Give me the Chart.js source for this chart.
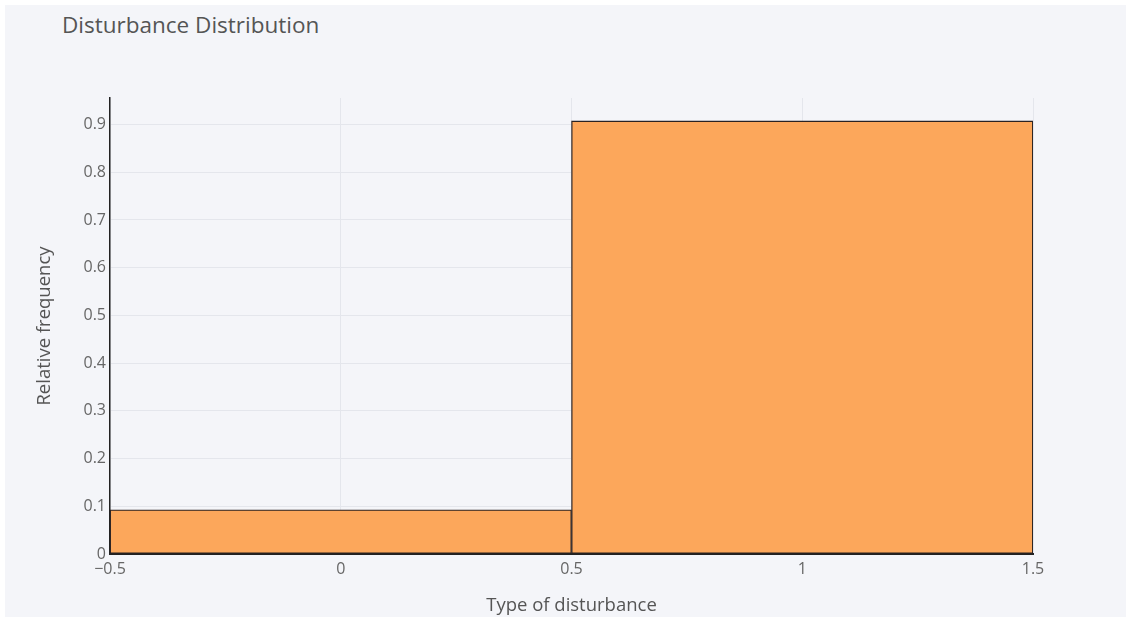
<!DOCTYPE html>
<html>
<head>
<meta charset="utf-8">
<title>Disturbance Distribution</title>
<script src="https://cdn.jsdelivr.net/npm/chart.js@4/dist/chart.umd.min.js"></script>
<style>
  html, body { margin:0; padding:0; background:#fff; }
  #wrap { position:absolute; left:5px; top:5px; width:1121px; height:612px; background:#f4f5f9; }
  #title { position:absolute; left:57px; top:6px; font:22.5px "Open Sans", sans-serif; line-height:27px; color:#555; }
  canvas { position:absolute; left:0; top:0; }
</style>
</head>
<body>
<div id="wrap">
  <div id="title">Disturbance Distribution</div>
  <canvas id="chart" width="1121" height="612"></canvas>
</div>
<script>
// histogram bins (edges) and relative frequency per bin
const binEdges = [-0.5, 0.5, 1.5];
const relFreq = [0.0925, 0.9075];
const xTicks = [-0.5, 0, 0.5, 1, 1.5];
const yTicks = [0, 0.1, 0.2, 0.3, 0.4, 0.5, 0.6, 0.7, 0.8, 0.9];
const yMax = 0.9556;

(function(){
  const FONT = '"Open Sans", sans-serif';
  const points = relFreq.map((v, i) => ({ x: (binEdges[i] + binEdges[i+1]) / 2, y: v }));

  function fmt(v){
    const s = String(Math.round(v * 10) / 10);
    return v < 0 ? '\u2212' + s.slice(1) : s;
  }

  new Chart(document.getElementById('chart'), {
    type: 'bar',
    data: {
      datasets: [{
        label: 'Relative frequency',
        data: points,
        backgroundColor: '#fca75b',
        borderColor: '#2a2222',
        borderWidth: 1.3,
        borderSkipped: false,
        barThickness: 'flex',
        barPercentage: 1,
        categoryPercentage: 1
      }]
    },
    options: {
      responsive: false,
      animation: false,
      layout: { padding: { top: 93, right: 93, bottom: 0, left: 0 } },
      plugins: { legend: { display: false }, tooltip: { enabled: false }, title: { display: false } },
      scales: {
        x: {
          type: 'linear',
          min: binEdges[0],
          max: binEdges[binEdges.length - 1],
          offset: false,
          afterBuildTicks: s => { s.ticks = xTicks.map(v => ({ value: v })); },
          afterFit: s => { s.height = 63; },
          ticks: { color: '#666', font: { family: FONT, size: 16 }, padding: 6, maxRotation: 0, callback: v => fmt(v) },
          grid: { color: '#e4e6ec', lineWidth: 1, drawTicks: false, offset: false },
          border: { color: '#222', width: 2 },
          title: { display: true, text: 'Type of disturbance', color: '#555', font: { family: FONT, size: 18.5 }, padding: { top: 0, bottom: 0 } }
        },
        y: {
          type: 'linear',
          min: 0,
          max: yMax,
          afterBuildTicks: s => { s.ticks = yTicks.map(v => ({ value: v })); },
          afterFit: s => { s.width = 105; },
          ticks: { color: '#666', font: { family: FONT, size: 16 }, padding: 4, callback: v => fmt(v) },
          grid: { color: '#e4e6ec', lineWidth: 1, drawTicks: false },
          border: { color: '#222', width: 1.5 },
          title: { display: true, text: 'Relative frequency', color: '#555', font: { family: FONT, size: 18.5 }, padding: { top: 29, bottom: 0 } }
        }
      }
    }
  });
})();
</script>
</body>
</html>
